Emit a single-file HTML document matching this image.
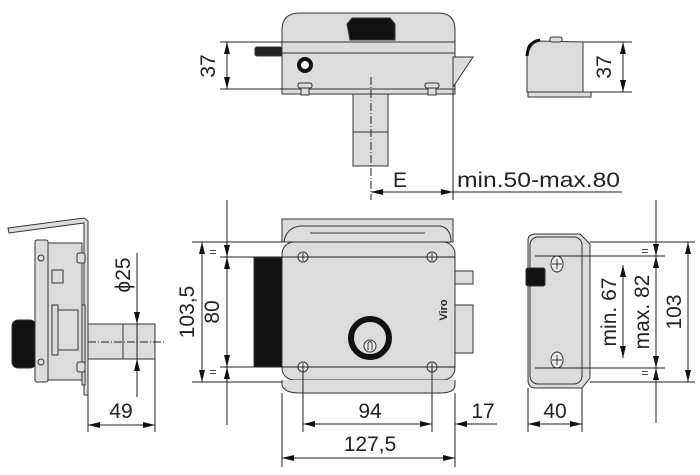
<!DOCTYPE html>
<html><head><meta charset="utf-8"><style>
html,body{margin:0;padding:0;background:#fff;}
svg{display:block;font-family:"Liberation Sans",sans-serif;}
text{fill:#222;}
</style></head><body>
<svg width="700" height="475" viewBox="0 0 700 475" xmlns="http://www.w3.org/2000/svg">
<defs>
<marker id="a" viewBox="0 0 12 6" refX="12" refY="3" markerWidth="12" markerHeight="6" orient="auto-start-reverse" markerUnits="userSpaceOnUse"><path d="M0,0 L12,3 L0,6z" fill="#111"/></marker>
</defs>
<g stroke="#333" stroke-width="1" fill="#dcdcdc">
<!-- TOP VIEW -->
<path d="M282,42 L282,30 Q282,13 300,13 L438,13 Q455,13 455,30 L455,42 Z"/>
<path d="M350,40 L347,24 L352,18 L390,18 L395,24 L395,40 Z" fill="#111"/>
<rect x="255" y="47" width="27" height="9" rx="2" fill="#222"/>
<rect x="282" y="42" width="173" height="47"/>
<line x1="282" y1="53" x2="455" y2="53"/>
<path d="M453,57 L473,57 L453,87 Z"/>
<rect x="282" y="89" width="173" height="5"/>
<circle cx="305" cy="65" r="6" fill="#fff" stroke="#111" stroke-width="4"/>
<rect x="301" y="87" width="8" height="8"/><rect x="298" y="83" width="14" height="5" rx="2"/>
<rect x="428" y="87" width="8" height="8"/><rect x="425" y="83" width="14" height="5" rx="2"/>
<rect x="353" y="94" width="35" height="72"/>
<line x1="353" y1="132" x2="388" y2="132"/>
<!-- small side top right -->
<path d="M527,92 L527,52 Q527,42 537,41 L583,42 L583,92 Z"/>
<path d="M527,56 Q528,42 540,40" fill="none" stroke="#111" stroke-width="3"/>
<rect x="550" y="37" width="12" height="5" rx="2"/>
<rect x="528" y="92" width="63" height="5"/>
<!-- FRONT VIEW -->
<path d="M282,242 L282,219 L453,219 L453,242 Z"/>
<path d="M284,242 Q286,228 300,226 L440,226 Q451,228 451,242" fill="none"/>
<line x1="310" y1="233" x2="425" y2="233"/>
<rect x="254" y="258" width="28" height="109" fill="#111"/>
<rect x="455" y="271" width="18" height="13"/>
<rect x="455" y="305" width="18" height="48"/>
<rect x="282" y="242" width="173" height="138" rx="12"/>
<path d="M282,380 L282,385 Q284,393 300,393 L440,393 Q455,393 455,385 L455,380"/>
<circle cx="370" cy="338" r="19" fill="#dcdcdc" stroke="#111" stroke-width="6"/>
<circle cx="370" cy="346" r="6" fill="#eee"/>
<path d="M368,350 L368,343 Q370,340 372,343 L372,350" fill="none"/>
<g fill="#eee" stroke="#333">
<circle cx="303" cy="257" r="5"/><circle cx="432" cy="257" r="5"/>
<circle cx="303" cy="367" r="5"/><circle cx="432" cy="367" r="5"/>
<path d="M299,257 h8 M303,253 v8 M428,257 h8 M432,253 v8 M299,367 h8 M303,363 v8 M428,367 h8 M432,363 v8"/>
</g>
<!-- LEFT VIEW -->
<path d="M8,228 L84,218 L88,221 L88,395 L84,395 L84,223 L9,233 Z"/>
<rect x="12" y="320" width="24" height="48" rx="6" fill="#111"/>
<rect x="35" y="240" width="13" height="142" rx="2"/>
<rect x="48" y="243" width="34" height="137"/>
<rect x="52" y="270" width="11" height="13"/>
<rect x="52" y="305" width="6" height="50"/>
<rect x="58" y="310" width="20" height="40"/>
<rect x="82" y="305" width="3" height="80"/>
<rect x="88" y="324" width="67" height="35"/>
<line x1="123" y1="324" x2="123" y2="359"/>
<circle cx="41" cy="258" r="3"/><circle cx="41" cy="362" r="3"/>
<rect x="77" y="253" width="8" height="10" rx="2"/><rect x="77" y="362" width="8" height="10" rx="2"/>
<!-- RIGHT VIEW -->
<path d="M528,240 Q528,234 536,234 L580,234 L590,244 L590,378 L582,388 L536,388 Q528,388 528,380 Z"/>
<rect x="530" y="237" width="52" height="147" rx="8"/>
<rect x="526" y="268" width="19" height="18" rx="2" fill="#111"/>
<ellipse cx="557" cy="264" rx="6" ry="8" fill="#eee"/>
<ellipse cx="557" cy="360" rx="6" ry="8" fill="#eee"/>
<path d="M552,264 h10 M557,259 v10 M552,360 h10 M557,355 v10"/>
</g>
<!-- dimension lines -->
<g stroke="#222" stroke-width="1" fill="none">
<line x1="371" y1="77" x2="371" y2="200" stroke-dasharray="8,2,1,2"/>
<line x1="220" y1="42" x2="282" y2="42"/><line x1="220" y1="89" x2="282" y2="89"/>
<line x1="227" y1="42" x2="227" y2="89" marker-start="url(#a)" marker-end="url(#a)"/>
<line x1="453" y1="89" x2="453" y2="200"/>
<line x1="371" y1="192" x2="453" y2="192" marker-start="url(#a)" marker-end="url(#a)"/>
<line x1="453" y1="192" x2="622" y2="192"/>
<line x1="583" y1="42" x2="632" y2="42"/><line x1="591" y1="92" x2="632" y2="92"/>
<line x1="623" y1="42" x2="623" y2="92" marker-start="url(#a)" marker-end="url(#a)"/>
<line x1="192" y1="242" x2="282" y2="242"/><line x1="192" y1="382" x2="282" y2="382"/>
<line x1="202" y1="242" x2="202" y2="382" marker-start="url(#a)" marker-end="url(#a)"/>
<line x1="220" y1="257" x2="455" y2="257"/><line x1="220" y1="367" x2="455" y2="367"/>
<line x1="227" y1="200" x2="227" y2="425"/>
<line x1="227" y1="212" x2="227" y2="257" marker-end="url(#a)"/>
<line x1="227" y1="257" x2="227" y2="367" marker-start="url(#a)" marker-end="url(#a)"/>
<line x1="227" y1="412" x2="227" y2="367" marker-end="url(#a)"/>
<line x1="303" y1="367" x2="303" y2="432"/><line x1="432" y1="367" x2="432" y2="432"/>
<line x1="282" y1="393" x2="282" y2="467"/><line x1="455" y1="393" x2="455" y2="467"/>
<line x1="303" y1="424" x2="432" y2="424" marker-start="url(#a)" marker-end="url(#a)"/>
<line x1="497" y1="424" x2="455" y2="424" marker-end="url(#a)"/>
<line x1="282" y1="458" x2="455" y2="458" marker-start="url(#a)" marker-end="url(#a)"/>
<line x1="88" y1="342" x2="165" y2="342" stroke-dasharray="8,2,1,2"/>
<line x1="137" y1="253" x2="137" y2="397"/>
<line x1="137" y1="300" x2="137" y2="324" marker-end="url(#a)"/>
<line x1="137" y1="383" x2="137" y2="359" marker-end="url(#a)"/>
<line x1="88" y1="395" x2="88" y2="432"/><line x1="155" y1="359" x2="155" y2="432"/>
<line x1="88" y1="425" x2="155" y2="425" marker-start="url(#a)" marker-end="url(#a)"/>
<line x1="535" y1="256" x2="665" y2="256"/><line x1="535" y1="368" x2="665" y2="368"/>
<line x1="590" y1="242" x2="695" y2="242"/><line x1="590" y1="382" x2="695" y2="382"/>
<line x1="623" y1="265" x2="623" y2="358" marker-start="url(#a)" marker-end="url(#a)"/>
<line x1="656" y1="200" x2="656" y2="423"/>
<line x1="656" y1="215" x2="656" y2="256" marker-end="url(#a)"/>
<line x1="656" y1="256" x2="656" y2="368" marker-start="url(#a)" marker-end="url(#a)"/>
<line x1="656" y1="410" x2="656" y2="368" marker-end="url(#a)"/>
<line x1="688" y1="242" x2="688" y2="382" marker-start="url(#a)" marker-end="url(#a)"/>
<line x1="528" y1="388" x2="528" y2="432"/><line x1="582" y1="388" x2="582" y2="432"/>
<line x1="528" y1="424" x2="582" y2="424" marker-start="url(#a)" marker-end="url(#a)"/>
</g>
<g font-size="21">
<text transform="translate(215,66) rotate(-90)" text-anchor="middle">37</text>
<text transform="translate(611,67) rotate(-90)" text-anchor="middle">37</text>
<text x="400" y="187" text-anchor="middle">E</text>
<text x="457" y="187" textLength="163" lengthAdjust="spacingAndGlyphs">min.50-max.80</text>
<text transform="translate(194,312) rotate(-90)" text-anchor="middle">103,5</text>
<text transform="translate(219,312) rotate(-90)" text-anchor="middle">80</text>
<text transform="translate(130,275) rotate(-90)" text-anchor="middle">ϕ25</text>
<text x="121" y="418" text-anchor="middle">49</text>
<text x="370" y="418" text-anchor="middle">94</text>
<text x="483" y="418" text-anchor="middle">17</text>
<text x="370" y="451" text-anchor="middle">127,5</text>
<text x="555" y="418" text-anchor="middle">40</text>
<text transform="translate(616,312) rotate(-90)" text-anchor="middle">min. 67</text>
<text transform="translate(649,312) rotate(-90)" text-anchor="middle">max. 82</text>
<text transform="translate(681,312) rotate(-90)" text-anchor="middle">103</text>
</g>
<g font-size="12">
<text x="213" y="256" text-anchor="middle">=</text><text x="213" y="376" text-anchor="middle">=</text>
<text x="645" y="255" text-anchor="middle">=</text><text x="645" y="377" text-anchor="middle">=</text>
</g>
<text transform="translate(447,310) rotate(-90)" text-anchor="middle" font-size="11" font-weight="bold">Viro</text>
</svg>
</body></html>
